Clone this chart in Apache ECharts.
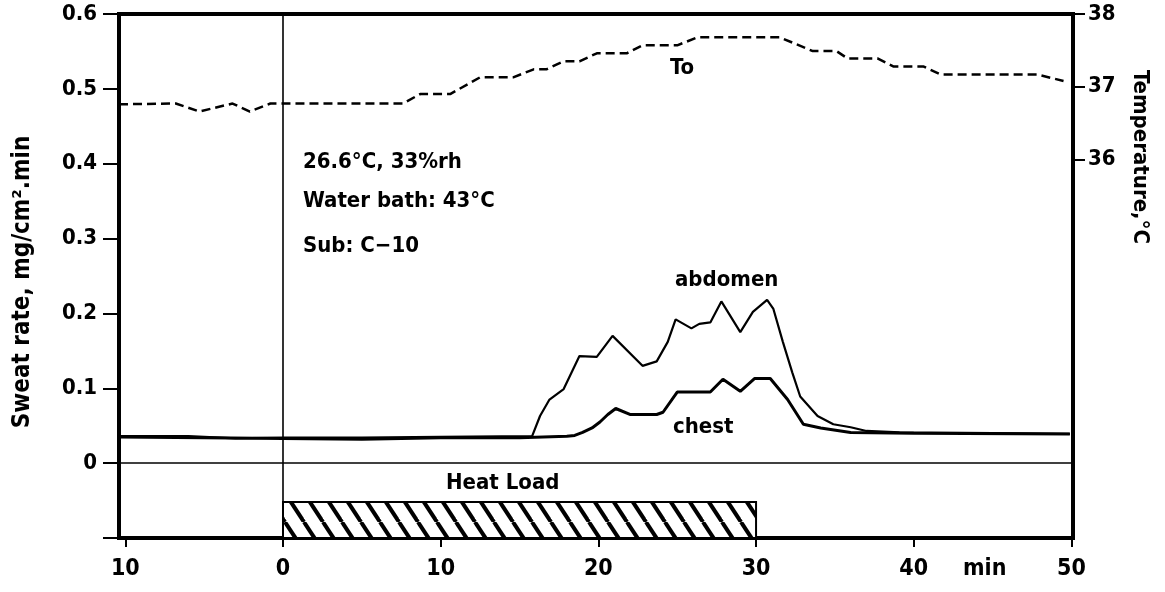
<!DOCTYPE html>
<html>
<head>
<meta charset="utf-8">
<script src="https://cdn.jsdelivr.net/npm/echarts@6/dist/echarts.min.js"></script>
<style>
  html, body { margin: 0; padding: 0; background: #fff; }
  #chart { width: 1165px; height: 592px; }
</style>
</head>
<body>
<div id="chart"></div>
<script>
// sweat rate (mg/cm2.min) vs time (min), heat load starts at 0
const abdomen = [
  [-10.4, 0.036], [-6, 0.036], [-3, 0.033], [0, 0.034], [5, 0.034], [10, 0.035],
  [15.8, 0.036], [16.3, 0.063], [16.9, 0.085], [17.8, 0.099], [18.8, 0.143],
  [19.9, 0.142], [20.9, 0.170], [22.8, 0.130], [23.7, 0.136], [24.4, 0.162],
  [24.9, 0.192], [25.9, 0.180], [26.4, 0.186], [27.1, 0.188], [27.8, 0.216],
  [29.0, 0.175], [29.8, 0.202], [30.7, 0.218], [31.1, 0.206], [31.7, 0.162],
  [32.3, 0.121], [32.8, 0.089], [33.9, 0.063], [34.9, 0.052], [36.0, 0.048],
  [37.0, 0.043], [39.1, 0.041], [45, 0.040], [49.9, 0.039]
];
const chest = [
  [-10.4, 0.035], [-5, 0.034], [0, 0.033], [5, 0.032], [10, 0.034], [15, 0.034],
  [18.0, 0.036], [18.5, 0.037], [19.0, 0.041], [19.6, 0.047], [20.1, 0.055],
  [20.6, 0.065], [21.1, 0.073], [22.0, 0.065], [23.7, 0.065], [24.1, 0.068],
  [25.0, 0.095], [27.1, 0.095], [27.9, 0.112], [29.0, 0.096], [29.9, 0.113],
  [30.9, 0.113], [32.0, 0.085], [33.0, 0.052], [34.1, 0.047], [36.0, 0.041],
  [40, 0.040], [49.9, 0.039]
];
// To, deg C (right axis)
const tempTo = [
  [-10.4, 36.76], [-6.8, 36.77], [-5.3, 36.66], [-3.2, 36.77], [-2.1, 36.66],
  [-0.8, 36.77], [7.6, 36.77], [8.7, 36.90], [10.6, 36.90], [12.5, 37.13],
  [14.6, 37.13], [15.9, 37.24], [16.7, 37.24], [17.8, 37.35], [18.8, 37.35],
  [19.9, 37.46], [21.8, 37.46], [22.8, 37.57], [25.0, 37.57], [26.3, 37.68],
  [31.5, 37.68], [33.6, 37.49], [35.1, 37.49], [35.8, 37.39], [37.7, 37.39],
  [38.7, 37.28], [40.6, 37.28], [41.7, 37.17], [47.8, 37.17], [49.5, 37.08]
];
const heatLoad = [0, 30];          // min
const heatLoadBand = [-0.052, -0.1];
const xTicks = [-10, 0, 10, 20, 30, 40, 50];
const tempTicks = [36, 37, 38];

const FONT = "'DejaVu Sans Condensed', 'Liberation Sans Narrow', 'DejaVu Sans', sans-serif";

// hatch pattern for the heat load bar
function hatch() {
  const w = 19, h = 29;
  const c = document.createElement("canvas");
  c.width = w; c.height = h;
  const ctx = c.getContext("2d");
  ctx.fillStyle = "#fff";
  ctx.fillRect(0, 0, w, h);
  ctx.strokeStyle = "#000";
  ctx.lineWidth = 4;
  [-w, 0, w].forEach((o) => {
    ctx.beginPath();
    ctx.moveTo(o, 0);
    ctx.lineTo(o + w, h);
    ctx.stroke();
  });
  return c;
}

const chart = echarts.init(document.getElementById("chart"));
const txt = (text, x, y, size, extra) =>
  Object.assign({
    type: "text", x: x, y: y,
    style: { text: text, font: "bold " + size + "px " + FONT, fill: "#000", verticalAlign: "middle" },
  }, extra || {});

let option = {
  animation: false,
  backgroundColor: "#fff",
  grid: {
    left: 119, right: 92, top: 14, bottom: 54,
    show: true, borderColor: "#000", borderWidth: 4,
  },
  xAxis: {
    type: "value",
    min: -10.4,
    max: 50.1,
    axisLine: { show: false, onZero: false },
    splitLine: { show: false },
    axisTick: { customValues: xTicks, length: 9, lineStyle: { color: "#000", width: 2 } },
    axisLabel: {
      customValues: [-10, 0, 10, 20, 30, 40, 44.5, 50],
      margin: 20,
      fontFamily: FONT, fontWeight: "bold", fontSize: 23, color: "#000",
      formatter: (v) => (v === 44.5 ? "min" : String(Math.abs(v))),
    },
  },
  yAxis: [
    {
      type: "value",
      min: -0.1, max: 0.6, interval: 0.1,
      name: "Sweat rate, mg/cm\u00b2.min",
      nameLocation: "middle", nameRotate: 90, nameGap: 84,
      nameTextStyle: { fontFamily: FONT, fontWeight: "bold", fontSize: 24, color: "#000", padding: [0, 12, 0, 0] },
      axisLine: { show: false, onZero: false },
      splitLine: { show: false },
      axisTick: { length: 16, lineStyle: { color: "#000", width: 2 } },
      axisLabel: {
        margin: 22,
        fontFamily: FONT, fontWeight: "bold", fontSize: 22, color: "#000",
        formatter: (v) => (v < -0.001 ? "" : Math.abs(v) < 0.001 ? "0" : v.toFixed(1)),
      },
    },
    {
      type: "value",
      min: 30.8, max: 38,
      position: "right",
      axisLine: { show: false, onZero: false },
      splitLine: { show: false },
      axisTick: { customValues: tempTicks, length: 12, lineStyle: { color: "#000", width: 2 } },
      axisLabel: {
        customValues: tempTicks,
        margin: 15,
        fontFamily: FONT, fontWeight: "bold", fontSize: 22, color: "#000",
      },
    },
  ],
  series: [
    {
      name: "abdomen",
      type: "line",
      data: abdomen,
      symbol: "none",
      lineStyle: { color: "#000", width: 2.2 },
      markLine: {
        silent: true, symbol: "none", label: { show: false },
        lineStyle: { color: "#000", width: 1.6, type: "solid" },
        data: [{ yAxis: 0 }, { xAxis: 0 }],
      },
      markArea: {
        silent: true,
        itemStyle: { color: { image: hatch(), repeat: "repeat" }, borderColor: "#000", borderWidth: 2 },
        data: [[{ xAxis: heatLoad[0], yAxis: heatLoadBand[0] }, { xAxis: heatLoad[1], yAxis: heatLoadBand[1] }]],
      },
    },
    {
      name: "chest",
      type: "line",
      data: chest,
      symbol: "none",
      lineStyle: { color: "#000", width: 3 },
    },
    {
      name: "To",
      type: "line",
      yAxisIndex: 1,
      data: tempTo,
      symbol: "none",
      lineStyle: { color: "#000", width: 2.5, type: [9, 5] },
    },
  ],
  graphic: [
    txt("26.6\u00b0C, 33%rh", 303, 162, 22),
    txt("Water bath: 43\u00b0C", 303, 201, 22),
    txt("Sub: C\u221210", 303, 246, 22),
    txt("To", 670, 68, 22),
    txt("abdomen", 675, 280, 22),
    txt("chest", 673, 427, 22),
    txt("Heat Load", 446, 483, 22),
    txt("Temperature,\u00b0C", 1140, 157, 22, { rotation: -Math.PI / 2, style: { text: "Temperature,\u00b0C", font: "bold 22px " + FONT, fill: "#000", align: "center", verticalAlign: "middle" } }),
  ],
};
option && chart.setOption(option);
</script>
</body>
</html>
